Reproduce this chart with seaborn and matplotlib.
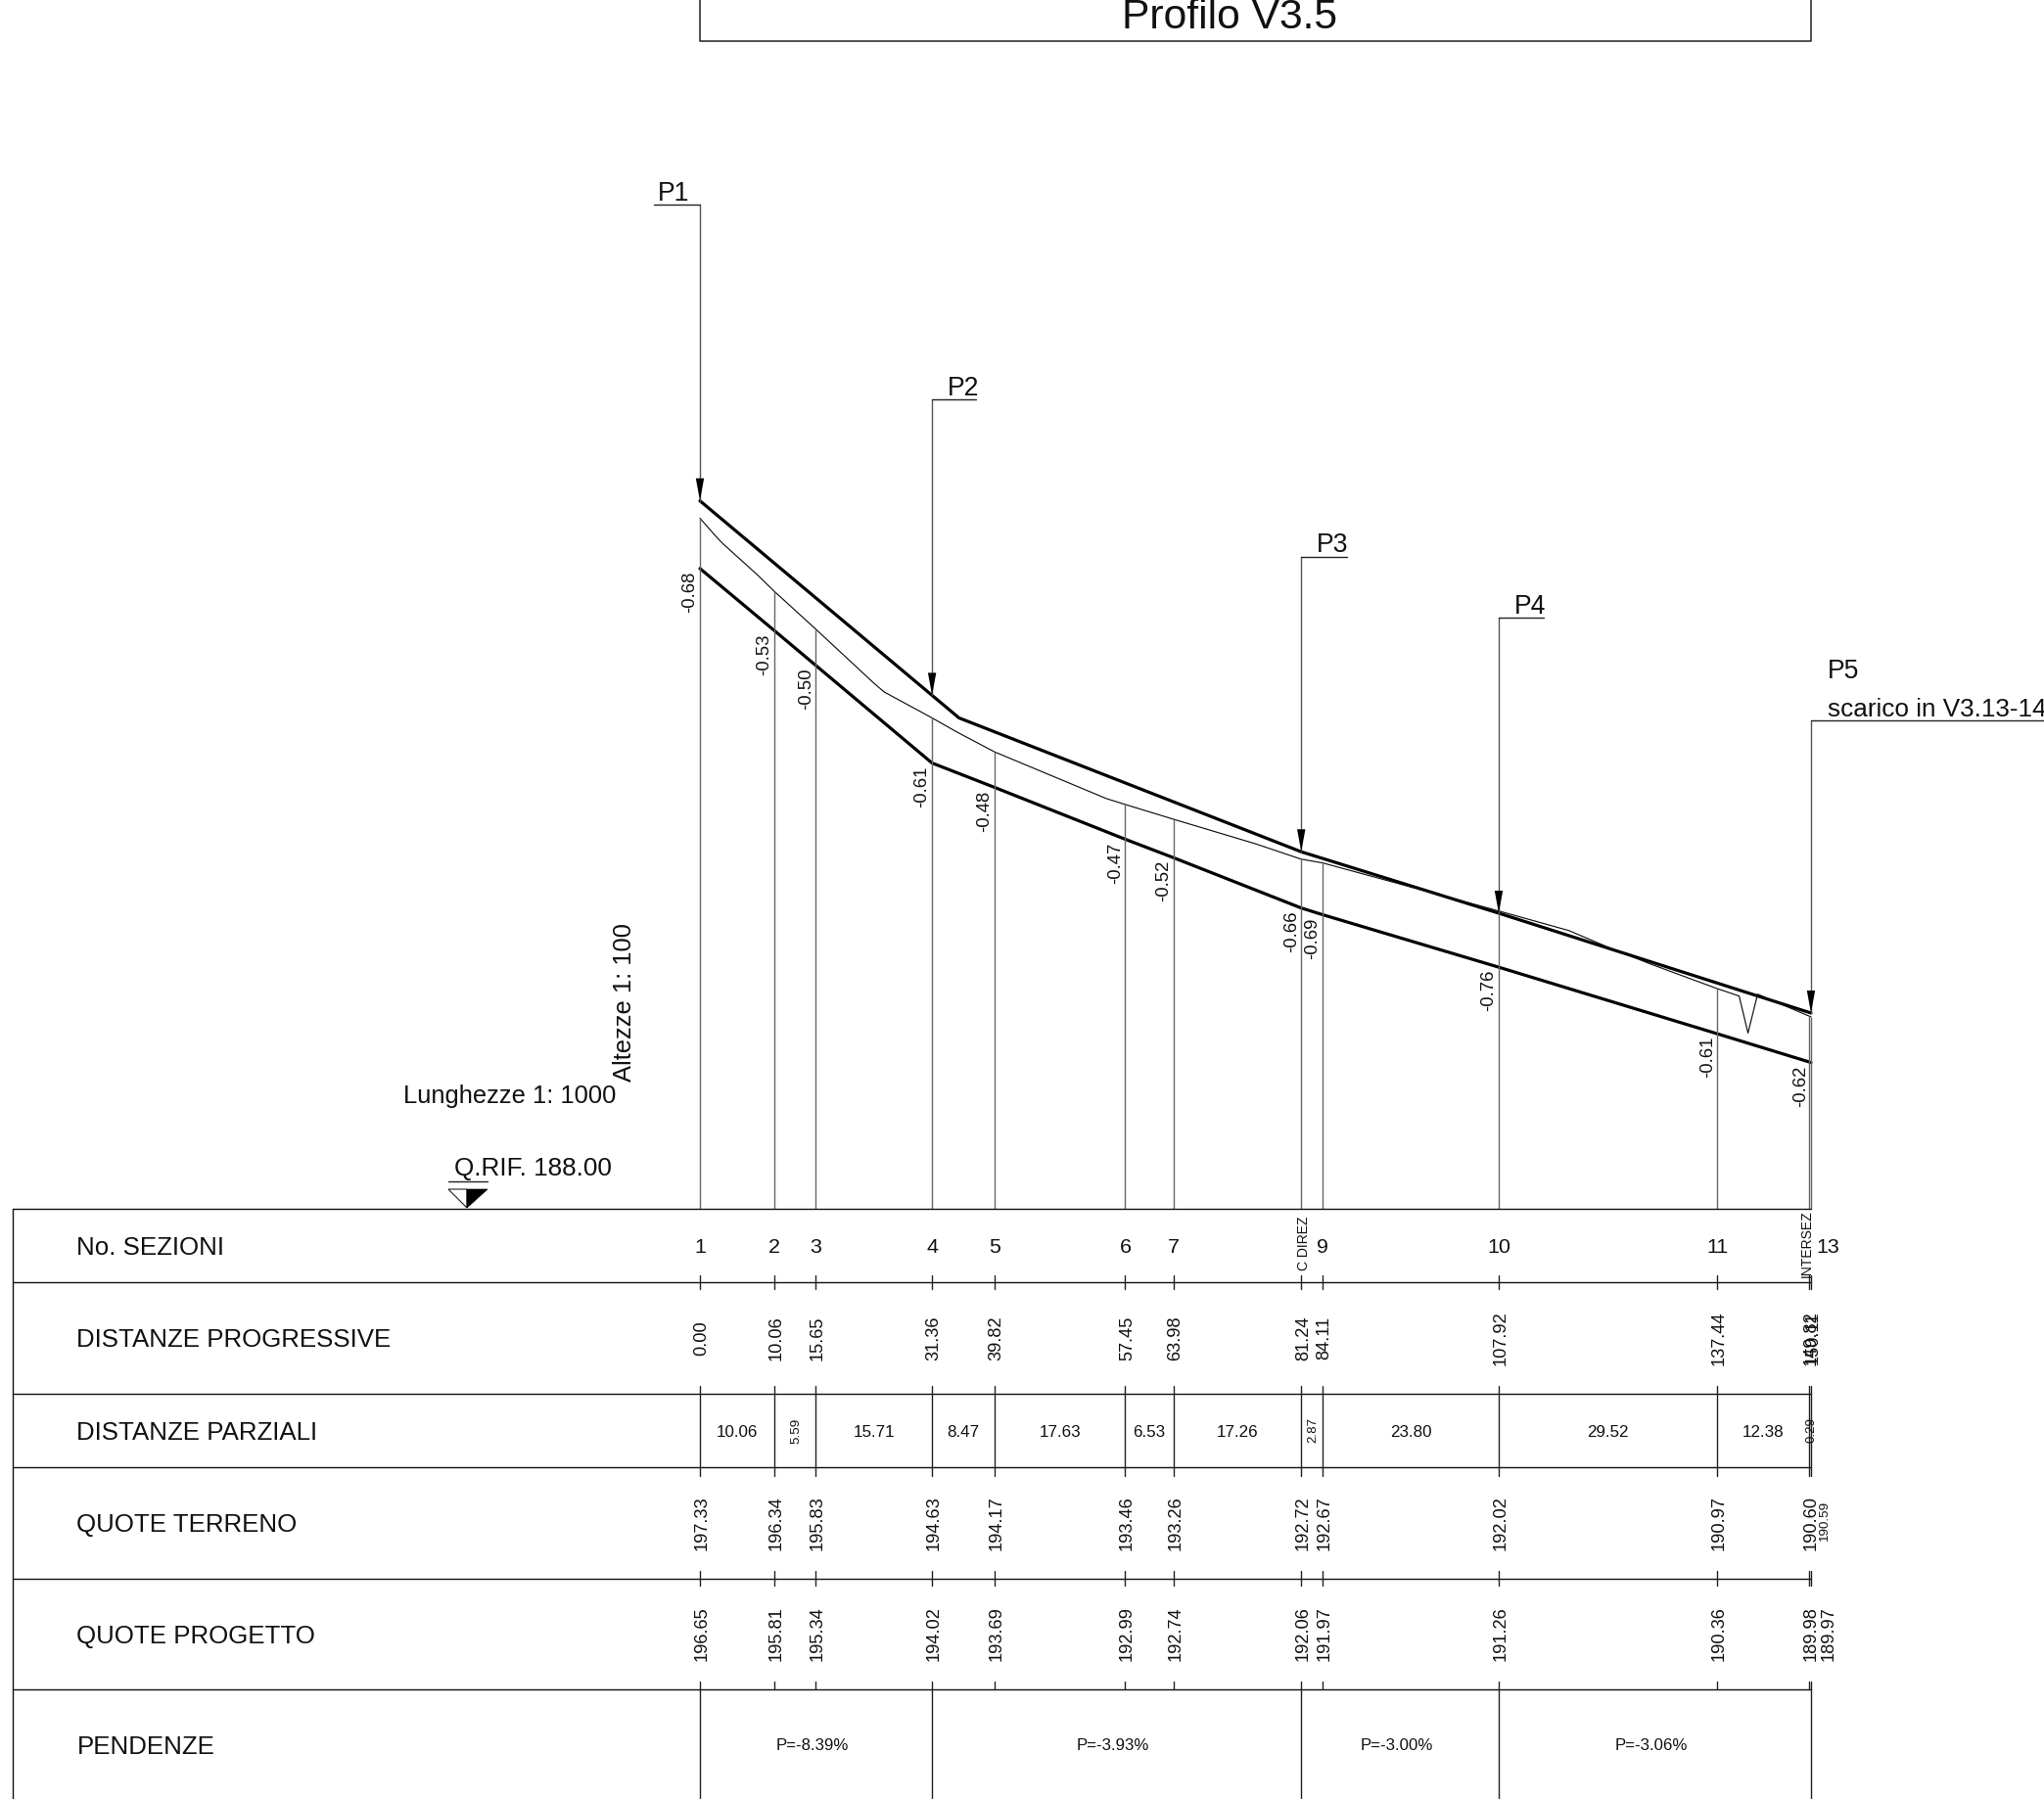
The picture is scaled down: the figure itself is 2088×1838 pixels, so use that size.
import numpy as np
import pandas as pd
import seaborn as sns
import matplotlib
matplotlib.use("Agg")
import matplotlib.pyplot as plt
from matplotlib.patches import Polygon
from matplotlib.transforms import blended_transform_factory as blend

# ---------- data ----------
section_names = ["1", "2", "3", "4", "5", "6", "7", "C DIREZ", "9", "10", "11", "INTERSEZ", "13"]
progressive = [0.00, 10.06, 15.65, 31.36, 39.82, 57.45, 63.98, 81.24, 84.11, 107.92, 137.44, 149.82, 150.11]
partial = [10.06, 5.59, 15.71, 8.47, 17.63, 6.53, 17.26, 2.87, 23.80, 29.52, 12.38, 0.29]
ground_quota = [197.33, 196.34, 195.83, 194.63, 194.17, 193.46, 193.26, 192.72, 192.67, 192.02, 190.97, 190.60, 190.59]
design_quota = [196.65, 195.81, 195.34, 194.02, 193.69, 192.99, 192.74, 192.06, 191.97, 191.26, 190.36, 189.98, 189.97]
depths = [-0.68, -0.53, -0.50, -0.61, -0.48, -0.47, -0.52, -0.66, -0.69, -0.76, -0.61, -0.62]
depth_stations = [0.00, 10.06, 15.65, 31.36, 39.82, 57.45, 63.98, 81.24, 84.11, 107.92, 137.44, 150.11]

# surveyed ground line, including the break points between sections and the ditch
ground_x = [0.0, 2.2, 3.05, 7.7, 10.06, 15.65, 23.5, 24.9, 31.36, 34.7, 39.82, 54.9, 57.45, 63.98, 75.0,
            81.24, 84.11, 107.92, 117.4, 122.7, 128.5, 137.44, 140.4, 141.6, 142.9, 149.82, 150.11]
ground_z = [197.33, 197.08, 196.99, 196.57, 196.34, 195.83, 195.10, 194.98, 194.63, 194.44, 194.17, 193.54, 193.46,
            193.26, 192.93, 192.72, 192.67, 192.02, 191.755, 191.53, 191.30, 190.97, 190.87, 190.37, 190.895,
            190.60, 190.59]

# pipe crown
crown_x = [0.0, 35.0, 81.24, 107.92, 150.11]
crown_z = [197.565, 194.63, 192.82, 191.99, 190.64]

# slopes per reach
slope_labels = ["P=-8.39%", "P=-3.93%", "P=-3.00%", "P=-3.06%"]
slope_breaks = [0.00, 31.36, 81.24, 107.92, 150.11]

row_labels = ["No. SEZIONI", "DISTANZE PROGRESSIVE", "DISTANZE PARZIALI", "QUOTE TERRENO", "QUOTE PROGETTO", "PENDENZE"]
inlet_names = ["P1", "P2", "P3", "P4"]
inlet_stations = [0.00, 31.36, 81.24, 107.92]
reference_quota = 188.00

# ---------- layout ----------
W, H = 2088, 1838
X0, SX = 715.0, 7.561      # pixel of station 0, pixels per metre
Y0, SZ = 1234.5, 75.57     # pixel of the reference quota, pixels per metre of height
ROWS = [1234.5, 1310, 1424, 1499, 1612.5, 1726, 1838]
K = 0.835                  # the drawing's lettering is narrow: scale sizes so that text widths agree


def fs(size):
    return size * K


sns.set_theme(style="white")
plt.rcParams["font.family"] = ["Liberation Sans", "DejaVu Sans"]
plt.rcParams["text.color"] = "#111111"

fig = plt.figure(figsize=(W / 100, H / 100), dpi=100, facecolor="white")
ax = fig.add_axes([0, 0, 1, 1])
ax.set_xlim(-X0 / SX, (W - X0) / SX)
ax.set_ylim(reference_quota - (H - Y0) / SZ, reference_quota + Y0 / SZ)
fx = fig.add_axes([0, 0, 1, 1], facecolor="none")
fx.set_xlim(0, W)
fx.set_ylim(H, 0)
fx.axis("off")
station_px = blend(ax.transData, fx.transData)

# ---------- profile lines ----------
profile = pd.DataFrame({"x": progressive, "z": design_quota})
sns.lineplot(data=profile, x="x", y="z", ax=ax, color="black", lw=2.3, sort=False, estimator=None, legend=False)
sns.lineplot(x=crown_x, y=crown_z, ax=ax, color="black", lw=2.3, sort=False, estimator=None, legend=False)
sns.lineplot(x=ground_x, y=ground_z, ax=ax, color="#111111", lw=0.85, sort=False, estimator=None, legend=False)
ax.axis("off")

# section verticals from reference line up to the ground
ax.vlines(progressive, reference_quota, ground_quota, color="#666666", lw=1.0)

ROT = dict(rotation=90, ha="center", va="center_baseline", rotation_mode="anchor")

# depth labels below the design line
design_at = dict(zip(progressive, design_quota))
for st, d in zip(depth_stations, depths):
    ax.annotate(f"{d:.2f}", xy=(st, design_at[st]), xytext=(-12, -24), textcoords="offset pixels",
                fontsize=fs(16), **ROT)

# ---------- inlets ----------
LEADER_TOP = {"P1": 209, "P2": 407.5, "P3": 568.5, "P4": 631}
LEADER_END = {"P1": 668, "P2": 997, "P3": 1375.5, "P4": 1577}
LABEL_X = {"P1": 672, "P2": 968, "P3": 1345, "P4": 1547}


def arrow(st):
    z = np.interp(st, crown_x, crown_z)
    y_tip = Y0 - (z - reference_quota) * SZ
    x_px = X0 + st * SX
    fx.add_patch(Polygon([[x_px, y_tip], [x_px - 4.2, y_tip - 23], [x_px + 4.2, y_tip - 23]],
                         closed=True, fc="black", ec="none", zorder=5))
    return x_px, y_tip


for name, st in zip(inlet_names, inlet_stations):
    x_px, y_tip = arrow(st)
    top = LEADER_TOP[name]
    fx.plot([x_px, x_px], [top, y_tip], color="#555555", lw=1.0)
    fx.plot([x_px, LEADER_END[name]], [top, top], color="#222222", lw=1.0)
    fx.text(LABEL_X[name], top - 4, name, fontsize=fs(23), ha="left", va="baseline")

x_px, y_tip = arrow(progressive[-1])
fx.plot([x_px, x_px], [736, y_tip], color="#555555", lw=1.0)
fx.plot([x_px, W], [736, 736], color="#222222", lw=1.0)
fx.text(1867, 693, "P5", fontsize=fs(23), ha="left", va="baseline")
fx.text(1867, 732, "scarico in V3.13-14", fontsize=fs(22.5), ha="left", va="baseline")

# ---------- title box ----------
fx.plot([715, 715, 1850, 1850], [0, 41.5, 41.5, 0], color="#222222", lw=1.1)
fx.text(1256, 29, "Profilo V3.5", fontsize=fs(36.8), ha="center", va="baseline")

# ---------- scale notes ----------
fx.text(411.5, 1127, "Lunghezze 1: 1000", fontsize=fs(22), ha="left", va="baseline")
fx.text(645, 1105, "Altezze 1: 100", fontsize=fs(22), rotation=90, ha="left", va="baseline", rotation_mode="anchor")
fx.text(464, 1201.5, f"Q.RIF. {reference_quota:.2f}", fontsize=fs(22.5), ha="left", va="baseline")
fx.plot([458, 498], [1207, 1207], color="#222222", lw=1.0)
fx.add_patch(Polygon([[458, 1215], [477, 1234], [477, 1215]], closed=True, fc="white", ec="#222222", lw=0.8))
fx.add_patch(Polygon([[477, 1215], [477, 1234], [498, 1215]], closed=True, fc="black", ec="black", lw=0.5))

# ---------- table ----------
for y in ROWS[:-1]:
    fx.plot([13, 1850], [y, y], color="#111111", lw=1.0)
fx.plot([13, 13], [1234.5, H], color="#111111", lw=1.0)

for st in progressive:
    for a, b in [(1303, 1317), (1415.5, 1507.5), (1605, 1620), (1718, 1726)]:
        fx.plot([st, st], [a, b], transform=station_px, color="#222222", lw=1.0)
for st in slope_breaks:
    fx.plot([st, st], [1726, H], transform=station_px, color="#222222", lw=1.0)

row_mid = [(a + b) / 2 for a, b in zip(ROWS[:-1], ROWS[1:])]
for y, lab in zip(row_mid, row_labels):
    fx.text(78.5, y, lab, fontsize=fs(22.3), ha="left", va="center_baseline")


def at_station(st, y, s, dx=0, **kw):
    kw.setdefault("ha", "center")
    kw.setdefault("va", "center_baseline")
    fx.annotate(s, xy=(st, y), xycoords=station_px, xytext=(dx, 0), textcoords="offset pixels", **kw)


# section numbers
for st, name in zip(progressive, section_names):
    if name in ("C DIREZ", "INTERSEZ"):
        at_station(st, row_mid[0] - 2, name, dx=-4 if name == "INTERSEZ" else 1, fontsize=fs(12), **ROT)
    else:
        at_station(st, row_mid[0], name, dx=17 if name == "13" else 0, fontsize=fs(18.5))

# progressive distances
for st in progressive:
    at_station(st, row_mid[1], f"{st:.2f}", fontsize=fs(15.7), **ROT)

# partial distances
for a, b, p in zip(progressive[:-1], progressive[1:], partial):
    mid = (a + b) / 2
    if p < 6:
        at_station(mid, row_mid[2], f"{p:.2f}", fontsize=fs(11.5), **ROT)
    else:
        at_station(mid, row_mid[2], f"{p:.2f}", fontsize=fs(14.7))

# ground quotas
for i, (st, q) in enumerate(zip(progressive, ground_quota)):
    if i == 12:
        at_station(st, row_mid[3] - 2, f"{q:.2f}", dx=12, fontsize=fs(11.5), **ROT)
    else:
        at_station(st, row_mid[3], f"{q:.2f}", fontsize=fs(15.7), **ROT)

# design quotas
for i, (st, q) in enumerate(zip(progressive, design_quota)):
    at_station(st, row_mid[4], f"{q:.2f}", dx=16 if i == 12 else 0, fontsize=fs(15.7), **ROT)

# slopes
for a, b, s in zip(slope_breaks[:-1], slope_breaks[1:], slope_labels):
    at_station((a + b) / 2, row_mid[5], s, dx=-3.5, fontsize=fs(14.5))

fig.savefig("out.png", dpi=100, facecolor="white")
